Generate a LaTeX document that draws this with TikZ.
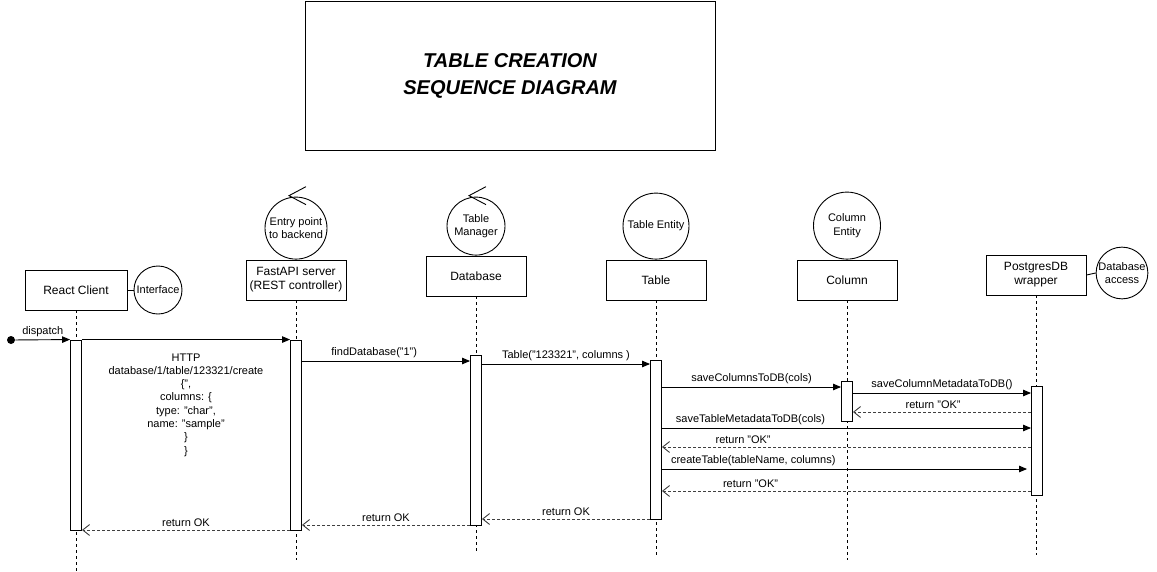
\documentclass[tikz,border=0pt]{standalone}
\usepackage{fontspec}
\setmainfont{Liberation Sans}
\usepackage{tikz}
\usetikzlibrary{arrows.meta,calc,positioning,shapes}
\tikzset{%
	lifebox/.style  = {draw, rectangle, minimum width=100, minimum height=40, align=center, font=\fontsize{12}{14}\selectfont},
	roleball/.style = {draw, circle, inner sep=0pt, align=center, font=\fontsize{11}{13.5}\selectfont},
	actbar/.style   = {draw, fill=white, rectangle, minimum width=11, inner sep=0pt},
	lifeline/.style = {dash pattern=on 3pt off 3pt, line width=0.8pt},
	msg/.style      = {line width=0.9pt, -{Triangle[length=8pt,width=6.5pt]}},
	ret/.style      = {line width=0.9pt, black!75, dash pattern=on 3pt off 2pt, -{Straight Barb[length=7pt,width=11pt]}},
	lbl/.style      = {font=\fontsize{11}{13.3}\selectfont, inner sep=2.5pt, text=black},
}
\begin{document}
\begin{tikzpicture}[x=1pt,y=-1pt,line width=0.9pt]
	\useasboundingbox (0,0) rectangle (1157,571);
	% title
	\node[draw, minimum width=410, minimum height=149, align=center, font=\bfseries\itshape\fontsize{20}{27}\selectfont] (title) at (510,76) {TABLE CREATION\\SEQUENCE DIAGRAM};
	% participants
	\node[lifebox, minimum width=102] (react) at (76,290) {React Client};
	\node[lifebox] (fastapi) at (296,280) {FastAPI server\\(REST controller)};
	\node[lifebox] (db) at (476,276) {Database};
	\node[lifebox] (tab) at (656,280) {Table};
	\node[lifebox] (col) at (847,280) {Column};
	\node[lifebox] (pg) at (1036,275) {PostgresDB\\wrapper};
	\node[roleball, minimum size=48] (iface) at (158,290) {Interface};
	\node[roleball, minimum size=62, above=0pt of fastapi] (entry) {Entry point\\to backend};
	\node[roleball, minimum size=58, above=0pt of db] (mgr) {Table\\Manager};
	\node[roleball, minimum size=66, above=0pt of tab] (tabent) {Table Entity};
	\node[roleball, minimum size=67, above=0pt of col] (colent) {Column\\Entity};
	\node[roleball, minimum size=50] (dbacc) at (1122,273) {Database\\access};
	\draw (react.east) -- (iface.west);
	\draw (pg.east) -- (dbacc.west);
	\draw ($(entry.north)+(10,-10)$) -- ($(entry.north)+(-7,-1)$) -- ($(entry.north)+(10,8)$);  % control
	\draw ($(mgr.north)+(10,-10)$) -- ($(mgr.north)+(-7,-1)$) -- ($(mgr.north)+(10,8)$);  % control
	% lifelines
	\draw[lifeline] (react.south) -- (react |- 0,571);
	\draw[lifeline] (fastapi.south) -- (fastapi |- 0,560);
	\draw[lifeline] (db.south) -- (db |- 0,553);
	\draw[lifeline] (tab.south) -- (tab |- 0,555);
	\draw[lifeline] (col.south) -- (col |- 0,560);
	\draw[lifeline] (pg.south) -- (pg |- 0,555);
	% activations
	\node[actbar, minimum height=190] (reactbar) at (76,435) {};
	\node[actbar, minimum height=190] (fastbar) at (296,435) {};
	\node[actbar, minimum height=170] (dbbar) at (476,440) {};
	\node[actbar, minimum height=159] (tabbar) at (656,439.5) {};
	\node[actbar, minimum height=40] (colbar) at (847,401) {};
	\node[actbar, minimum height=109] (pgbar) at (1037,440.5) {};
	% calls
	\node[circle, fill, minimum size=8, inner sep=0pt] (start) at (11,340) {};
	\draw[msg] (start) -- (reactbar.north west) node[lbl, midway, above] {dispatch};
	\draw[msg] (reactbar.north east) -- (fastbar.north west) node[lbl, midway, below=11pt, align=center] {HTTP\\database/1/table/123321/create\\\{",\\columns: \{\\type: "char",\\name: "sample"\\\}\\\}};
	\draw[msg] (fastbar.east |- 0,361) -- (dbbar.west |- 0,361) node[lbl, pos=0.43, above] {findDatabase("1")};
	\draw[msg] (dbbar.east |- 0,364) -- (tabbar.west |- 0,364) node[lbl, midway, above] {Table("123321", columns )};
	\draw[msg] (tabbar.east |- 0,387) -- (colbar.west |- 0,387) node[lbl, midway, above] {saveColumnsToDB(cols)};
	\draw[msg] (colbar.east |- 0,393) -- (pgbar.west |- 0,393) node[lbl, midway, above] {saveColumnMetadataToDB()};
	\draw[ret] (pgbar.west |- 0,412) -- (colbar.east |- 0,412) node[lbl, pos=0.55, above] {return "OK"};
	\draw[msg] (tabbar.east |- 0,428) -- (pgbar.west |- 0,428) node[lbl, pos=0.24, above] {saveTableMetadataToDB(cols)};
	\draw[ret] (pgbar.west |- 0,447) -- (tabbar.east |- 0,447) node[lbl, pos=0.78, above] {return "OK"};
	\draw[msg] (tabbar.east |- 0,469) -- ($(pgbar.west |- 0,469)+(-4,0)$) node[lbl, pos=0.25, above] {createTable(tableName, columns)};
	\draw[ret] (pgbar.west |- 0,491) -- (tabbar.east |- 0,491) node[lbl, pos=0.76, above] {return "OK"};
	% returns
	\draw[ret] (tabbar.west |- 0,519) -- (dbbar.east |- 0,519) node[lbl, midway, above] {return OK};
	\draw[ret] (dbbar.west |- 0,525) -- (fastbar.east |- 0,525) node[lbl, midway, above] {return OK};
	\draw[ret] (fastbar.west |- 0,530) -- (reactbar.east |- 0,530) node[lbl, midway, above] {return OK};
\end{tikzpicture}
\end{document}
